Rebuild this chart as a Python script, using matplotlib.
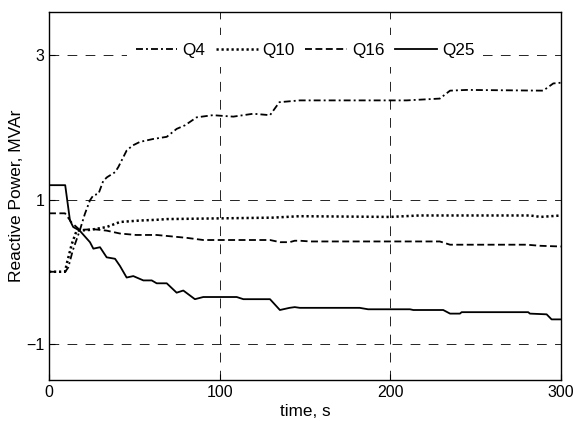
import matplotlib
matplotlib.use("Agg")
import matplotlib.pyplot as plt

plt.rcParams['font.family'] = ['Liberation Sans', 'DejaVu Sans']
plt.rcParams['lines.scale_dashes'] = False

t4 = [0, 9.5, 11.3, 14, 18, 21, 24, 26, 29, 31.8, 34, 38.7, 40.6, 45.5, 49, 53.3, 61, 69,
      74.8, 79.7, 86.5, 96, 108, 119.7, 129.5, 135, 147, 209.6, 229, 235, 244.8, 289.6, 295.5, 300]
q4 = [0, 0, 0.06, 0.3, 0.57, 0.8, 0.99, 1.06, 1.08, 1.26, 1.31, 1.38, 1.45, 1.68, 1.75, 1.8, 1.84, 1.87,
      1.98, 2.03, 2.14, 2.17, 2.15, 2.19, 2.17, 2.35, 2.375, 2.375, 2.4, 2.51, 2.52, 2.51, 2.61, 2.62]

t10 = [0, 9.4, 10.4, 13.3, 16.2, 24, 33.8, 41.6, 53.3, 63, 69, 131, 147, 200, 217, 282, 288, 300]
q10 = [0, 0, 0.11, 0.38, 0.57, 0.58, 0.62, 0.69, 0.71, 0.72, 0.73, 0.75, 0.77, 0.76, 0.78, 0.78, 0.76, 0.78]

t16 = [0, 9.4, 13.3, 18, 26, 33.8, 41.6, 51, 63, 80.7, 90.4, 129.5, 135.4, 141, 144, 147, 153,
       229, 235, 280, 287.7, 300]
q16 = [0.81, 0.81, 0.68, 0.58, 0.59, 0.57, 0.53, 0.51, 0.51, 0.47, 0.44, 0.44, 0.41, 0.41, 0.43, 0.43, 0.42,
       0.42, 0.375, 0.375, 0.36, 0.35]

t25 = [0, 9.5, 12.3, 14.2, 18, 24, 26, 29.9, 33.8, 38.7, 41.6, 45.5, 49.4, 55.3, 60.2, 63.1, 69, 74.8, 78.7,
       85.5, 90.4, 110, 113.9, 129.5, 135.3, 141, 144, 147, 182, 187, 211.5, 213.5, 231, 235, 240.8, 241.8,
       280.8, 281.8, 291.6, 294.5, 300]
q25 = [1.2, 1.2, 0.71, 0.62, 0.57, 0.41, 0.32, 0.34, 0.2, 0.18, 0.08, -0.08, -0.06, -0.12, -0.12, -0.16, -0.16,
       -0.29, -0.26, -0.38, -0.35, -0.35, -0.38, -0.38, -0.53, -0.5, -0.49, -0.5, -0.5, -0.52, -0.52, -0.53,
       -0.53, -0.58, -0.58, -0.56, -0.56, -0.58, -0.59, -0.66, -0.66]

fig = plt.figure(figsize=(5.73, 4.21), dpi=100)
ax = fig.add_axes([0.0855, 0.0974, 0.8935, 0.8741])

lw = 1.3
ax.plot(t4, q4, color='k', lw=lw, linestyle=(0, (5, 2.2, 1.4, 2.2)), label='Q4')
ax.plot(t10, q10, color='k', lw=1.8, linestyle=(0, (1.6, 2.0)), label='Q10')
ax.plot(t16, q16, color='k', lw=lw, linestyle=(0, (5, 2.5)), label='Q16')
ax.plot(t25, q25, color='k', lw=lw, linestyle='-', label='Q25')

ax.set_xlim(0, 300)
ax.set_ylim(-1.5, 3.6)
ax.set_xticks([0, 100, 200, 300])
ax.set_yticks([-1, 1, 3])
ax.grid(True, color='k', lw=0.6, linestyle=(0, (7, 6)))
ax.tick_params(direction='in', length=4, labelsize=11.5, width=0.8)
for s in ax.spines.values():
    s.set_linewidth(1.0)

ax.set_xlabel('time, s', fontsize=12.3, labelpad=3)
ax.set_ylabel('Reactive Power, MVAr', fontsize=12.5, labelpad=1)

leg = ax.legend(loc='center', bbox_to_anchor=(0.5, 0.895), ncol=4, frameon=True,
                fontsize=12.3, handlelength=2.45, columnspacing=0.6, handletextpad=0.3,
                borderpad=0.5, fancybox=False)
leg.get_frame().set_edgecolor('none')
leg.get_frame().set_facecolor('white')
leg.get_frame().set_alpha(1.0)

fig.savefig('out.png', dpi=100)
